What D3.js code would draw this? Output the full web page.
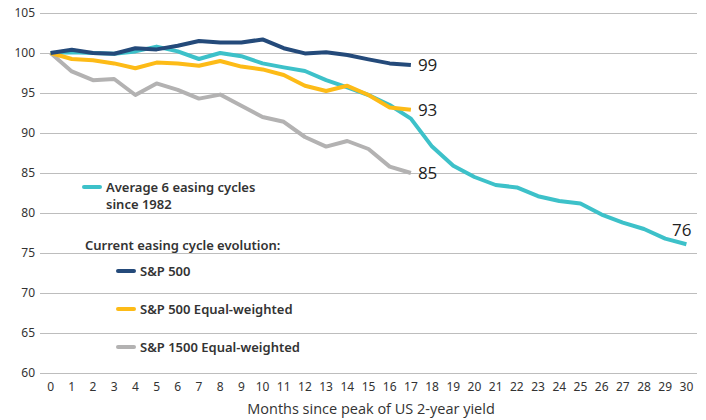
<!DOCTYPE html>
<html>
<head>
  <meta charset="utf-8">
  <title>Easing cycles</title>
  <script src="https://cdn.jsdelivr.net/npm/d3@7"></script>
  <style>
    body { margin: 0; background: #fff; }
    svg { display: block; }
    .tick text { font-family: "Noto Sans", sans-serif; font-size: 12px; fill: #333; }
    .legend text { font-family: "Noto Sans", sans-serif; font-size: 13px; font-weight: 600; fill: #333; }
    .end-label { font-family: "Open Sans", sans-serif; font-size: 17px; fill: #222; }
    .x-title { font-family: "Open Sans", sans-serif; font-size: 14.5px; fill: #333; }
  </style>
</head>
<body>
<div id="chart"></div>
<script>
  // months since peak of US 2-year yield
  const months = d3.range(0, 31);
  const yTicks = [60, 65, 70, 75, 80, 85, 90, 95, 100, 105];

  const avgCycles = [100, 100.1, 100.0, 99.9, 100.2, 100.8, 100.2, 99.25, 100.0, 99.6,
    98.7, 98.2, 97.75, 96.6, 95.7, 94.75, 93.5, 91.8, 88.3, 85.9,
    84.5, 83.5, 83.2, 82.1, 81.5, 81.2, 79.8, 78.8, 78.0, 76.8, 76.1];
  const sp500 = [100, 100.4, 100.0, 99.9, 100.6, 100.45, 100.9, 101.5, 101.3, 101.3,
    101.7, 100.6, 99.95, 100.1, 99.75, 99.2, 98.7, 98.5];
  const sp500EW = [100, 99.25, 99.1, 98.7, 98.1, 98.8, 98.7, 98.4, 99.0, 98.3,
    97.95, 97.25, 95.9, 95.25, 95.9, 94.75, 93.2, 92.9];
  const sp1500EW = [100, 97.7, 96.6, 96.75, 94.75, 96.2, 95.4, 94.3, 94.8, 93.4,
    92.0, 91.4, 89.5, 88.3, 89.0, 88.0, 85.8, 85.0];

  const colors = {
    avg: '#3dc1c9',
    sp500: '#244a7a',
    ew: '#fdbb17',
    ew1500: '#b3b2b2'
  };

  const width = 706, height = 420;
  const svg = d3.select('#chart').append('svg')
    .attr('width', width)
    .attr('height', height);

  const x = d3.scaleBand()
    .domain(months)
    .range([40, 697]);
  const y = d3.scaleLinear()
    .domain([60, 105])
    .range([373, 13]);

  const cx = m => x(m) + x.bandwidth() / 2;

  // gridlines + y labels
  const yAxis = d3.axisLeft(y)
    .tickValues(yTicks)
    .tickSize(-(697 - 40))
    .tickPadding(6);
  svg.append('g')
    .attr('transform', 'translate(40,0)')
    .call(yAxis)
    .call(g => g.select('.domain').remove())
    .call(g => g.selectAll('.tick line').attr('stroke', '#bdbdbd').attr('stroke-width', 1.2))
    .call(g => g.selectAll('.tick text').attr('x', -5));

  const xAxis = d3.axisBottom(x)
    .tickSize(0)
    .tickPadding(9);
  svg.append('g')
    .attr('transform', 'translate(0,373)')
    .call(xAxis)
    .call(g => g.select('.domain').remove());

  svg.append('text')
    .attr('class', 'x-title')
    .attr('x', 371)
    .attr('y', 414)
    .attr('text-anchor', 'middle')
    .text('Months since peak of US 2-year yield');

  const line = d3.line()
    .x((d, i) => cx(i))
    .y(d => y(d));

  const series = [
    { key: 'ew1500', data: sp1500EW, label: '85' },
    { key: 'avg', data: avgCycles, label: '76' },
    { key: 'ew', data: sp500EW, label: '93' },
    { key: 'sp500', data: sp500, label: '99' }
  ];

  svg.append('g').selectAll('path')
    .data(series)
    .join('path')
    .attr('d', d => line(d.data))
    .attr('fill', 'none')
    .attr('stroke', d => colors[d.key])
    .attr('stroke-width', 4)
    .attr('stroke-linejoin', 'round');

  // end labels
  svg.append('g').selectAll('text')
    .data(series)
    .join('text')
    .attr('class', 'end-label')
    .attr('x', d => d.key === 'avg' ? cx(d.data.length - 1) + 5 : cx(d.data.length - 1) + 7)
    .attr('y', d => d.key === 'avg' ? y(d.data[d.data.length - 1]) - 8 : y(d.data[d.data.length - 1]) + 6)
    .attr('text-anchor', d => d.key === 'avg' ? 'end' : 'start')
    .text(d => d.label);

  // legend
  const legend = svg.append('g').attr('class', 'legend');
  const items = [
    { key: 'avg', x: 84, y: 187, lines: ['Average 6 easing cycles', 'since 1982'] },
    { key: 'sp500', x: 118, y: 271, lines: ['S&P 500'] },
    { key: 'ew', x: 118, y: 309, lines: ['S&P 500 Equal-weighted'] },
    { key: 'ew1500', x: 118, y: 347, lines: ['S&P 1500 Equal-weighted'] }
  ];
  items.forEach(it => {
    legend.append('line')
      .attr('x1', it.x).attr('x2', it.x + 16)
      .attr('y1', it.y).attr('y2', it.y)
      .attr('stroke', colors[it.key])
      .attr('stroke-width', 4)
      .attr('stroke-linecap', 'round');
    it.lines.forEach((t, i) => {
      legend.append('text')
        .attr('x', it.x + 22)
        .attr('y', it.y + 5 + i * 17)
        .text(t);
    });
  });
  legend.append('text')
    .attr('x', 85)
    .attr('y', 250)
    .text('Current easing cycle evolution:');
</script>
</body>
</html>
